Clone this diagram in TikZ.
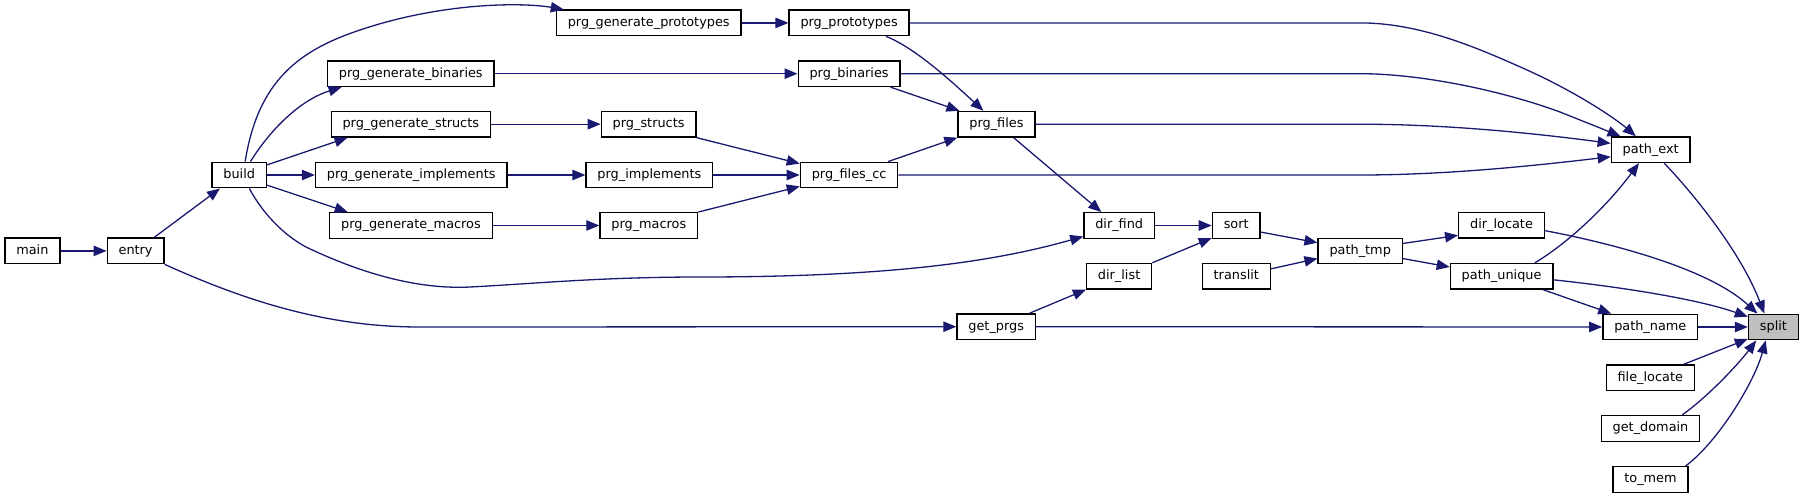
\documentclass[tikz,border=0pt]{standalone}
\usepackage{fontspec}
\setmainfont{DejaVu Sans}
\usepackage{tikz}
\usetikzlibrary{calc,arrows.meta}
\definecolor{midnight}{HTML}{191970}
\definecolor{selgrey}{HTML}{BFBFBF}

\begin{document}
\begin{tikzpicture}[x=0.5pt,y=-0.5pt,
  fn/.style={draw=black,fill=white,line width=0.65pt,minimum height=12.8pt,
    inner xsep=5.7pt,inner ysep=0pt,text height=4.9pt,text depth=1.5pt,
    font=\fontsize{6.43}{7.7}\selectfont},
  fnsel/.style={fn,fill=selgrey},
  call/.style={draw=midnight,line width=0.65pt,-{Triangle[length=6.5pt,width=5.2pt]}}]

\useasboundingbox (0,0) rectangle (1804,498);

% callers, left to right
\node (main) at (32.4,250.9) [fn] {main};
\node (entry) at (135.6,250.9) [fn] {entry};
\node (build) at (239.2,175) [fn] {build};

\node (pgp) at (648.7,22.9) [fn] {prg\_generate\_prototypes};
\node (pgb) at (410.8,73.7) [fn] {prg\_generate\_binaries};
\node (pgs) at (410.8,124.2) [fn] {prg\_generate\_structs};
\node (pgi) at (411.2,175) [fn] {prg\_generate\_implements};
\node (pgm) at (411,225.5) [fn] {prg\_generate\_macros};

\node (pp) at (849.1,22.9) [fn] {prg\_prototypes};
\node (pb) at (849.1,73.7) [fn] {prg\_binaries};
\node (ps) at (648.6,124.2) [fn] {prg\_structs};
\node (pi) at (649.4,175) [fn] {prg\_implements};
\node (pm) at (648.8,225.5) [fn] {prg\_macros};
\node (pf) at (996.4,124.2) [fn] {prg\_files};
\node (pfc) at (849.1,175) [fn] {prg\_files\_cc};

\node (dfind) at (1119.2,225.5) [fn] {dir\_find};
\node (dlist) at (1119.1,276.2) [fn] {dir\_list};
\node (gprgs) at (996.2,326.7) [fn] {get\_prgs};
\node (sort) at (1236.2,225.5) [fn] {sort};
\node (translit) at (1236.3,276.2) [fn] {translit};
\node (ptmp) at (1360.2,251) [fn] {path\_tmp};
\node (dloc) at (1501.5,225.3) [fn] {dir\_locate};
\node (puniq) at (1501.6,276.2) [fn] {path\_unique};

\node (pext) at (1650.7,149.7) [fn] {path\_ext};
\node (pname) at (1650.3,327) [fn] {path\_name};
\node (floc) at (1650.3,377.8) [fn] {file\_locate};
\node (gdom) at (1650.5,428.4) [fn] {get\_domain};
\node (tomem) at (1650.5,479.5) [fn] {to\_mem};
\node (split) at (1773.4,327) [fnsel] {split};

% main / entry / build
\draw [call] (main) -- (entry);
\draw [call] (entry.36) -- (build.215);
\draw [call] (entry.south east) .. controls (250,303) and (330,327) .. (420,327) -- (gprgs.west);

\draw [call] (build.66) .. controls (258,80) and (300,50) .. (360,30) .. controls (440,3) and (520,2) .. (pgp.171);
\draw [call] (build.50) .. controls (270,130) and (300,100) .. (pgb.191);
\draw [call] (build.20) -- (pgs.192);
\draw [call] (build) -- (pgi);
\draw [call] (build.340) -- (pgm.168);
\draw [call] (build.307) .. controls (262,212) and (282,234) .. (306,247) .. controls (350,268) and (410,290) .. (470,287) .. controls (530,284) and (600,277) .. (700,277) .. controls (900,277) and (1000,260) .. (dfind.197);

% generators
\draw [call] (pgp) -- (pp);
\draw [call] (pgb) -- (pb);
\draw [call] (pgs) -- (ps);
\draw [call] (pgi) -- (pi);
\draw [call] (pgm) -- (pm);

\draw [call] (pp.340) .. controls (915,48) and (950,80) .. (pf.134);
\draw [call] (pb.342) -- (pf.160);
\draw [call] (ps.south east) -- (pfc.167);
\draw [call] (pi) -- (pfc);
\draw [call] (pm.north east) -- (pfc.193);
\draw [call] (pfc.19) -- (pf.south west);
\draw [call] (pf.322) -- (dfind.143);

% long ones into path_ext
\draw [call] (pp.east) -- (1360,22.9) .. controls (1420,22.9) and (1477,47.5) .. (1527,70) .. controls (1577,92.5) and (1616,119) .. (pext.138);
\draw [call] (pb.east) -- (1360,73.7) .. controls (1420,73.7) and (1500,90) .. (1560,112) .. controls (1585,122) and (1605,130) .. (pext.156);
\draw [call] (pf.east) -- (1360,124.2) .. controls (1450,124.2) and (1540,134) .. (pext.171);
\draw [call] (pfc.east) -- (1360,175) .. controls (1450,175) and (1540,165) .. (pext.190);

% dir / sort / path_tmp
\draw [call] (dfind) -- (sort);
\draw [call] (dlist.22) -- (sort.207);
\draw [call] (gprgs.22) -- (dlist.south west);
\draw [call] (sort.345) -- (ptmp.169);
\draw [call] (translit.12) -- (ptmp.190);
\draw [call] (ptmp.10) -- (dloc.193);
\draw [call] (ptmp.350) -- (puniq.170);
\draw [call] (puniq.22) .. controls (1560,248) and (1600,215) .. (pext.229);
\draw [call] (puniq.342) -- (pname.161);
\draw [call] (gprgs) -- (pname);

% into split
\draw [call] (pext.315) .. controls (1690,190) and (1740,250) .. (split.124);
\draw [call] (dloc.353) .. controls (1620,245) and (1710,270) .. (split.140);
\draw [call] (puniq.356) .. controls (1630,288) and (1700,300) .. (split.158);
\draw [call] (pname) -- (split);
\draw [call] (floc.22) -- (split.205);
\draw [call] (gdom.23) .. controls (1710,395) and (1740,362) .. (split.218);
\draw [call] (tomem.21) .. controls (1720,440) and (1755,380) .. (split.240);

\end{tikzpicture}
\end{document}
